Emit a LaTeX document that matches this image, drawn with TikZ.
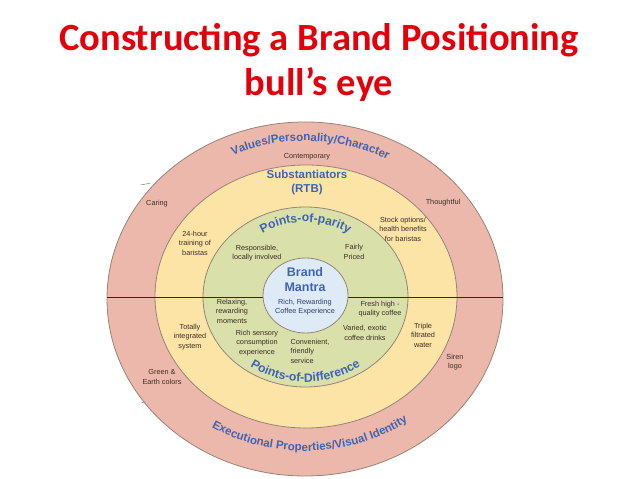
\documentclass[tikz,border=0pt]{standalone}
\usepackage{fontspec}
\setmainfont{Liberation Sans}
\setsansfont{Liberation Sans}
\newfontfamily\titlefont{Carlito}
\usetikzlibrary{decorations.text}
\definecolor{pinkring}{RGB}{236,184,172}
\definecolor{yellowring}{RGB}{252,228,166}
\definecolor{greenring}{RGB}{217,224,170}
\definecolor{bluering}{RGB}{222,235,246}
\definecolor{ringline}{RGB}{150,132,120}
\definecolor{labblue}{RGB}{62,100,178}
\definecolor{bodytext}{RGB}{60,45,38}
\definecolor{mantratext}{RGB}{45,60,110}
\definecolor{titlered}{RGB}{228,0,10}
\begin{document}
\begin{tikzpicture}[x=1pt,y=1pt,
  ring/.style={draw=ringline,line width=0.8pt},
  body/.style={text=bodytext,font=\fontsize{7.3}{9.5}\selectfont,align=center,inner sep=0pt},
  biglab/.style={text=labblue,font=\fontsize{11.5}{14}\selectfont\bfseries,align=center,inner sep=0pt},
  curved/.style={decorate,decoration={text along path,text align=center,
     text={|\fontsize{11.5}{13}\selectfont\bfseries\color{labblue}|#1}}},
  curvedin/.style={decorate,decoration={text along path,text align=center,
     text={|\fontsize{12.2}{14}\selectfont\bfseries\color{labblue}|#1}}},
  titletext/.style={text=titlered,font=\titlefont\fontsize{38.5}{46}\selectfont\bfseries,align=center,inner sep=0pt}
]
\useasboundingbox (0,0) rectangle (638,479);
% centres
\coordinate (co) at (305,180);
\coordinate (cy) at (306,182.5);
\coordinate (cg) at (305.5,182);
\coordinate (cb) at (305.5,183.5);
% rings
\fill[pinkring] (co) ellipse [x radius=198pt,y radius=177pt];
\draw[ring] (co) ellipse [x radius=198pt,y radius=177pt];
\fill[yellowring] (cy) ellipse [x radius=151pt,y radius=131.5pt];
\draw[ring] (cy) ellipse [x radius=151pt,y radius=131.5pt];
\fill[greenring] (cg) ellipse [x radius=102.5pt,y radius=90pt];
\draw[ring] (cg) ellipse [x radius=102.5pt,y radius=90pt];
% horizontal divider
\coordinate (hl) at (107,182);
\coordinate (hr) at (503,182);
\draw[black!70!brown,line width=0.8pt] (hl) -- (hr);
\fill[bluering] (cb) ellipse [x radius=42.5pt,y radius=37.5pt];
\draw[ring] (cb) ellipse [x radius=42.5pt,y radius=37.5pt];
% small marks
\coordinate (m1a) at (140.5,294); \coordinate (m1b) at (150,295.7);
\coordinate (m2a) at (141.5,76.3); \coordinate (m2b) at (145,77);
\draw[gray,line width=0.5pt] (m1a) -- (m1b);
\draw[gray,line width=0.5pt] (m2a) -- (m2b);
% curved labels
\path[curved={Values/Personality/Character}] ([shift={(148:174pt and 158pt)}]co) arc[start angle=148,end angle=28,x radius=174pt,y radius=158pt];
\path[curved={Executional Properties/Visual Identity}] ([shift={(212:174pt and 152pt)}]co) arc[start angle=212,end angle=332,x radius=174pt,y radius=152pt];
\path[curvedin={Points-of-parity}] ([shift={(140:82pt and 75pt)}]cg) arc[start angle=140,end angle=40,x radius=82pt,y radius=75pt];
\path[curvedin={Points-of-Difference}] ([shift={(220:95pt and 85pt)}]cg) arc[start angle=220,end angle=320,x radius=95pt,y radius=85pt];
% title
\node[titletext] (t1) at (319,439) {Constructing a Brand Positioning};
\node[titletext] (t2) at (319,394) {bull’s eye};
% inner labels
\node[biglab] (subst) at (307,296) {Substantiators\\(RTB)};
\node[biglab,font=\fontsize{12.5}{15}\selectfont\bfseries] (mantra) at (305,199) {Brand\\Mantra};
\node[body,text=mantratext] (rich) at (305,172) {Rich, Rewarding\\Coffee Experience};
% body texts
\node[body] (contemp) at (307,322) {Contemporary};
\node[body] (caring) at (157,275) {Caring};
\node[body] (thought) at (443,276) {Thoughtful};
\node[body] (hour) at (195,236) {24-hour\\training of\\baristas};
\node[body] (resp) at (257,226) {Responsible,\\locally involved};
\node[body] (stock) at (403,250) {Stock options/\\health benefits\\for baristas};
\node[body] (fair) at (354,227) {Fairly\\Priced};
\node[body] (relax) at (232,168) {Relaxing,\\rewarding\\moments};
\node[body] (sens) at (257,136) {Rich sensory\\consumption\\experience};
\node[body,align=left] (conv) at (310,128) {Convenient,\\friendly\\service};
\node[body] (fresh) at (380,170) {Fresh high -\\quality coffee};
\node[body] (varied) at (365,146) {Varied, exotic\\coffee drinks};
\node[body] (triple) at (423,144) {Triple\\filtrated\\water};
\node[body] (siren) at (455,117) {Siren\\logo};
\node[body] (total) at (190,142) {Totally\\integrated\\system};
\node[body] (green) at (162,102) {Green \&\\Earth colors};
\end{tikzpicture}
\end{document}
